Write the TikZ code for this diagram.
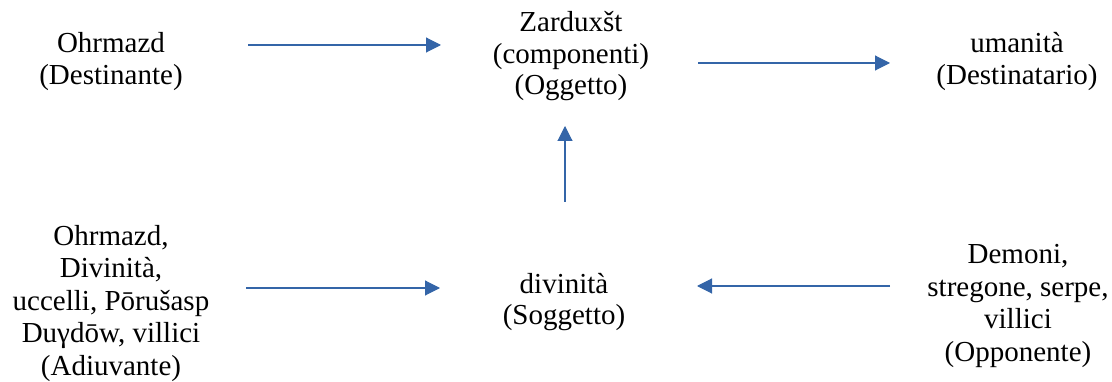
\documentclass[tikz,border=0pt]{standalone}
\usepackage{fontspec}
\setmainfont{Liberation Serif}
\newfontfamily\timesfont{Liberation Serif}
\usetikzlibrary{arrows.meta}
\definecolor{arrblue}{RGB}{52,101,168}
\begin{document}
\begin{tikzpicture}[x=1pt,y=-1pt,
  lbl/.style={anchor=base, align=center, inner sep=0pt, text=black},
  arr/.style={draw=arrblue, line width=1.1pt, -{Triangle[length=15pt,width=15pt,fill=arrblue]}}]
\useasboundingbox (0,0) rectangle (1112,382);
% nodes (anchor = baseline of the last line)
\node[lbl, font={\timesfont\fontsize{29}{32}\selectfont}] (dest) at (111,85) {Ohrmazd\\(Destinante)};
\node[lbl, font={\timesfont\fontsize{29}{31.5}\selectfont}] (ogg) at (571,95) {Zarduxšt\\(componenti)\\(Oggetto)};
\node[lbl, font={\timesfont\fontsize{29}{32}\selectfont}] (destr) at (1017,85) {umanità\\(Destinatario)};
\node[lbl, font={\timesfont\fontsize{29}{32.5}\selectfont}] (adiu) at (111,375) {Ohrmazd,\\Divinità,\\uccelli, Pōrušasp\\Duγdōw, villici\\(Adiuvante)};
\node[lbl, font={\timesfont\fontsize{29}{31}\selectfont}] (sogg) at (564,324) {divinità\\(Soggetto)};
\node[lbl, font={\timesfont\fontsize{29}{33}\selectfont}] (oppo) at (1018,362) {Demoni,\\stregone, serpe,\\villici\\(Opponente)};
% connector end points
\coordinate (a1s) at (248,45);  \coordinate (a1e) at (441,45);
\coordinate (a2s) at (698,63);  \coordinate (a2e) at (890,63);
\coordinate (a3s) at (565,202); \coordinate (a3e) at (565,126);
\coordinate (a4s) at (246,288); \coordinate (a4e) at (440,288);
\coordinate (a5s) at (890,286); \coordinate (a5e) at (697,286);
% connectors
\draw[arr] (a1s) -- (a1e);
\draw[arr] (a2s) -- (a2e);
\draw[arr] (a3s) -- (a3e);
\draw[arr] (a4s) -- (a4e);
\draw[arr] (a5s) -- (a5e);
\end{tikzpicture}
\end{document}
